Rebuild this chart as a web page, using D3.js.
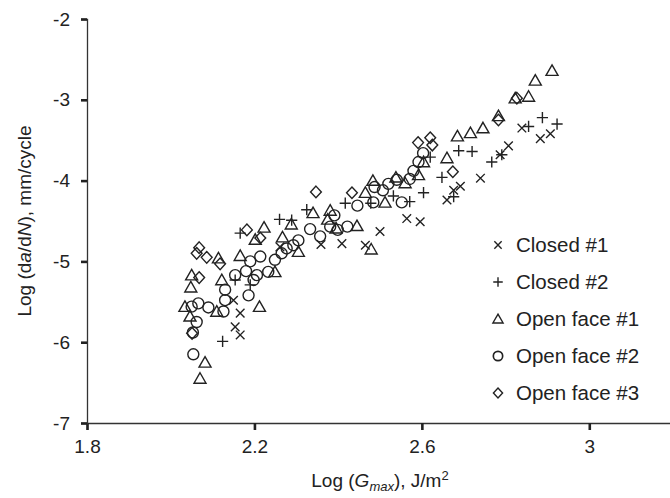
<!DOCTYPE html>
<html lang="en">
  <head>
    <meta charset="utf-8">
    <title>Log da/dN vs Log Gmax</title>
    <script src="https://d3js.org/d3.v7.min.js"></script>
    <style>
      body { margin: 0; background: #fff; }
      text { font-family: "Liberation Sans", Arial, sans-serif; fill: #222; }
    </style>
  </head>
  <body>
    <div id="viz"></div>
    <script type="text/javascript">
    // data
    var closed1X = [2.150, 2.166, 2.154, 2.166, 2.261, 2.359, 2.409, 2.465, 2.500, 2.564, 2.596,
                    2.660, 2.676, 2.692, 2.740, 2.787, 2.807, 2.839, 2.883, 2.907];
    var closed1Y = [-5.48, -5.64, -5.81, -5.91, -4.82, -4.79, -4.78, -4.80, -4.63, -4.47, -4.51,
                    -4.24, -4.12, -4.07, -3.97, -3.68, -3.57, -3.35, -3.48, -3.42];

    var closed2X = [2.124, 2.166, 2.190, 2.154, 2.260, 2.289, 2.325, 2.417, 2.478, 2.532, 2.571,
                    2.604, 2.620, 2.648, 2.676, 2.688, 2.720, 2.767, 2.791, 2.855, 2.888, 2.923];
    var closed2Y = [-5.99, -4.65, -5.29, -5.23, -4.48, -4.49, -4.36, -4.28, -4.28, -4.19, -4.26,
                    -4.15, -3.71, -3.96, -4.20, -3.63, -3.64, -3.77, -3.68, -3.33, -3.22, -3.30];

    var open1X = [2.223, 2.202, 2.114, 2.166, 2.050, 2.048, 2.122, 2.034, 2.046, 2.110, 2.212,
                  2.082, 2.070, 2.249, 2.267, 2.288, 2.305, 2.340, 2.375, 2.381, 2.395, 2.445,
                  2.479, 2.465, 2.483, 2.512, 2.538, 2.560, 2.592, 2.604, 2.660, 2.685, 2.716,
                  2.746, 2.783, 2.823, 2.855, 2.871, 2.911];
    var open1Y = [-4.58, -4.73, -4.96, -4.93, -5.17, -5.32, -5.23, -5.56, -5.68, -5.62, -5.56,
                  -6.25, -6.45, -5.13, -4.70, -4.54, -4.88, -4.40, -4.48, -4.37, -4.59, -4.56,
                  -4.85, -4.15, -4.00, -4.27, -3.96, -4.03, -3.93, -3.77, -3.72, -3.45, -3.41,
                  -3.35, -3.20, -2.98, -2.96, -2.76, -2.64];

    var open2X = [2.054, 2.062, 2.053, 2.050, 2.066, 2.090, 2.126, 2.130, 2.130, 2.154, 2.180,
                  2.186, 2.190, 2.214, 2.206, 2.233, 2.249, 2.198, 2.265, 2.277, 2.293, 2.305,
                  2.333, 2.357, 2.381, 2.399, 2.391, 2.422, 2.446, 2.484, 2.487, 2.507, 2.520,
                  2.540, 2.552, 2.571, 2.580, 2.592, 2.603];
    var open2Y = [-6.15, -5.75, -5.88, -5.56, -5.52, -5.57, -5.62, -5.48, -5.35, -5.17, -5.12,
                  -5.42, -5.00, -4.94, -5.17, -5.13, -4.98, -5.23, -4.90, -4.84, -4.80, -4.74,
                  -4.60, -4.69, -4.57, -4.61, -4.43, -4.57, -4.31, -4.27, -4.08, -4.12, -4.04,
                  -3.99, -4.27, -3.98, -3.88, -3.77, -3.66];

    var open3X = [2.068, 2.062, 2.086, 2.118, 2.068, 2.182, 2.214, 2.051, 2.347, 2.433,
                  2.620, 2.591, 2.625, 2.674, 2.783, 2.827];
    var open3Y = [-4.83, -4.90, -4.95, -5.03, -5.20, -4.61, -4.71, -5.89, -4.14, -4.15,
                  -3.47, -3.53, -3.56, -3.89, -3.25, -2.98];

    var seriesNames = ["Closed #1", "Closed #2", "Open face #1", "Open face #2", "Open face #3"];
    var xTicks = [1.8, 2.2, 2.6, 3];
    var yTicks = [-2, -3, -4, -5, -6, -7];

    var w = 670, h = 498;
    var x = d3.scaleLinear().domain([1.8, 3.2]).range([87, 673]);
    var y = d3.scaleLinear().domain([-7, -2]).range([423, 19]);

    // marker shapes, centred on 0,0
    var markers = [
      "M-4.3,-4.3L4.3,4.3M-4.3,4.3L4.3,-4.3",
      "M-5.6,0H5.6M0,-5.6V5.6",
      "M0,-5.8L6,4.7H-6Z",
      "circle",
      "M0,-5.8L5.4,0L0,5.8L-5.4,0Z"
    ];

    var series = [
      { xs: closed1X, ys: closed1Y },
      { xs: closed2X, ys: closed2Y },
      { xs: open1X, ys: open1Y },
      { xs: open2X, ys: open2Y },
      { xs: open3X, ys: open3Y }
    ];

    var svg = d3.select("#viz").append("svg")
        .attr("width", w)
        .attr("height", h);

    function drawMarker(g, k, scale) {
      if (markers[k] == "circle") {
        g.append("circle").attr("r", 5.5 * scale);
      } else {
        g.append("path").attr("d", markers[k])
          .attr("transform", "scale(" + scale + ")");
      }
      g.selectAll("*")
        .attr("fill", "none")
        .attr("stroke", "#222")
        .attr("stroke-width", 1.4 / scale);
    }

    // points
    series.forEach(function(s, k) {
      var pts = s.xs.map(function(v, i) { return [v, s.ys[i]]; });
      svg.append("g").selectAll("g")
        .data(pts)
        .enter()
        .append("g")
        .attr("transform", function(d) { return "translate(" + x(d[0]) + "," + y(d[1]) + ")"; })
        .each(function() { drawMarker(d3.select(this), k, 1); });
    });

    // axes
    var xAxis = svg.append("g")
        .attr("transform", "translate(0," + y(-7) + ")")
        .call(d3.axisBottom(x).tickValues(xTicks).tickSize(7).tickPadding(10)
          .tickFormat(function(d) { return d; }));
    var yAxis = svg.append("g")
        .attr("transform", "translate(" + x(1.8) + ",0)")
        .call(d3.axisLeft(y).tickValues(yTicks).tickSize(6).tickPadding(11)
          .tickFormat(function(d) { return d; }));

    [xAxis, yAxis].forEach(function(a) {
      a.select(".domain").attr("stroke", "#333").attr("stroke-width", 1.3);
      a.selectAll(".tick line").attr("stroke", "#222").attr("stroke-width", 2.6);
      a.selectAll(".tick text")
        .attr("fill", "#222")
        .style("font-size", "19px")
        .style("font-family", "'Liberation Sans', Arial, sans-serif");
    });

    // axis titles
    var xt = svg.append("text")
        .attr("x", 380)
        .attr("y", 487)
        .attr("text-anchor", "middle")
        .style("font-size", "19px");
    xt.append("tspan").text("Log (");
    xt.append("tspan").attr("font-style", "italic").text("G");
    xt.append("tspan").attr("font-style", "italic").attr("font-size", "13px").attr("dy", 4).text("max");
    xt.append("tspan").attr("dy", -4).text("), J/m");
    xt.append("tspan").attr("font-size", "13px").attr("dy", -7).text("2");

    var yt = svg.append("text")
        .attr("transform", "translate(31,221) rotate(-90)")
        .attr("text-anchor", "middle")
        .style("font-size", "19px");
    yt.append("tspan").text("Log (d");
    yt.append("tspan").attr("font-style", "italic").text("a");
    yt.append("tspan").text("/d");
    yt.append("tspan").attr("font-style", "italic").text("N");
    yt.append("tspan").text("), mm/cycle");

    // legend
    var legend = svg.append("g").selectAll("g")
        .data(seriesNames)
        .enter()
        .append("g")
        .attr("transform", function(d, i) { return "translate(498," + (245 + i * 37) + ")"; });
    legend.each(function(d, i) {
      var m = d3.select(this).append("g");
      drawMarker(m, i, 0.85);
    });
    legend.append("text")
        .attr("x", 18)
        .attr("y", 7)
        .style("font-size", "20.5px")
        .text(function(d) { return d; });
    </script>
  </body>
</html>
